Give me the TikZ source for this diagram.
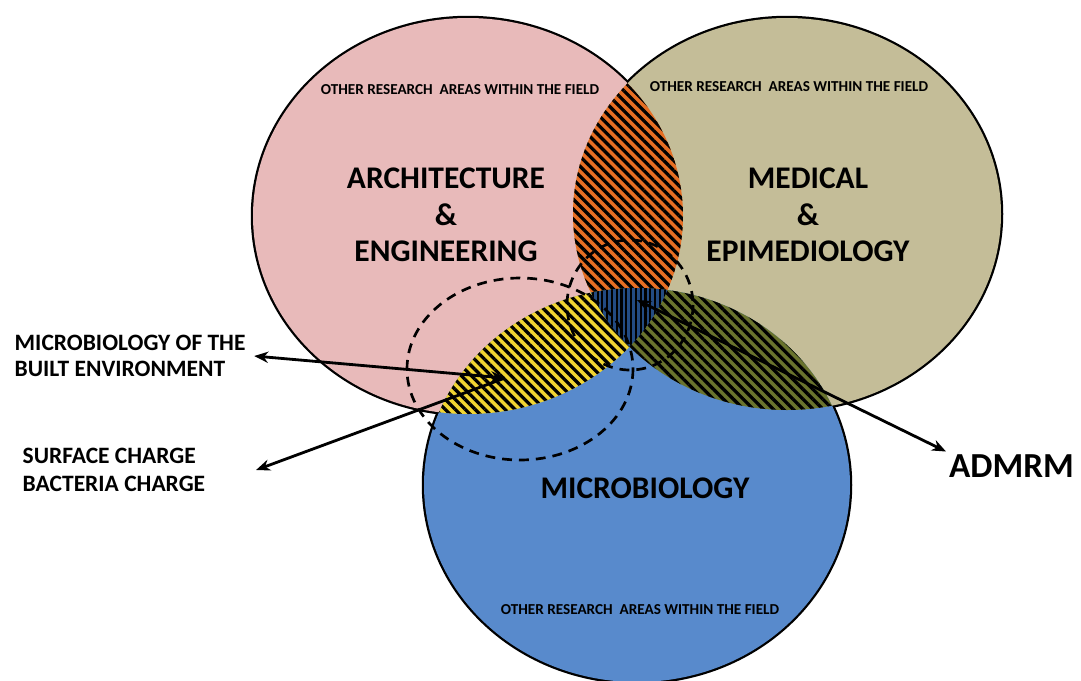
\documentclass[tikz,border=0pt]{standalone}
\usepackage{fontspec}
\setmainfont{Carlito}
\usetikzlibrary{patterns.meta,arrows.meta}

\definecolor{archpink}{RGB}{232,186,186}
\definecolor{medtan}{RGB}{196,189,152}
\definecolor{microblue}{RGB}{88,138,204}
\definecolor{lensorange}{RGB}{230,110,35}
\definecolor{lensyellow}{RGB}{240,212,50}
\definecolor{lensolive}{RGB}{105,115,45}
\definecolor{coreblue}{RGB}{35,75,130}

\tikzset{
  rim/.style={draw=black, line width=3.2pt},
  hatch/.style={pattern={Lines[angle=-45,distance=5pt,line width=2.3pt]}, pattern color=black},
  vhatch/.style={pattern={Lines[angle=90,distance=3.4pt,line width=1.5pt]}, pattern color=black},
  title/.style={font=\bfseries\fontsize{22.4}{26}\selectfont, align=center},
  other/.style={font=\bfseries\fontsize{10.8}{12}\selectfont},
  callout/.style={font=\bfseries\fontsize{16.7}{18.5}\selectfont, align=left, anchor=west, inner sep=6pt},
  ring/.style={line width=1.9pt, dash pattern=on 7pt off 5pt},
  pointer/.style={line width=2pt},
  >={Stealth[length=10pt,width=8pt]}
}

\begin{document}
\begin{tikzpicture}[x=0.025cm,y=-0.025cm]
\useasboundingbox (0,0) rectangle (1081,680);
\fill[white] (0,0) rectangle (1081,680);

\coordinate (arch) at (468,216);
\coordinate (med) at (787,214);
\coordinate (micro) at (637,485);

% rims first, the fills on top leave only the outer edge
\draw[rim] (arch) ellipse [x radius=215, y radius=198];
\draw[rim] (med) ellipse [x radius=214, y radius=196];
\draw[rim] (micro) ellipse [x radius=213, y radius=197];
\fill[archpink] (arch) ellipse [x radius=215, y radius=198];
\fill[medtan] (med) ellipse [x radius=214, y radius=196];
\fill[microblue] (micro) ellipse [x radius=213, y radius=197];

% pairwise overlaps
\begin{scope}
  \clip (arch) ellipse [x radius=215, y radius=198];
  \fill[lensorange] (med) ellipse [x radius=214, y radius=196];
  \fill[hatch] (med) ellipse [x radius=214, y radius=196];
  \fill[lensyellow] (micro) ellipse [x radius=213, y radius=197];
  \fill[hatch] (micro) ellipse [x radius=213, y radius=197];
\end{scope}
\begin{scope}
  \clip (med) ellipse [x radius=214, y radius=196];
  \fill[lensolive] (micro) ellipse [x radius=213, y radius=197];
  \fill[hatch] (micro) ellipse [x radius=213, y radius=197];
\end{scope}

% all three
\begin{scope}
  \clip (arch) ellipse [x radius=215, y radius=198];
  \clip (med) ellipse [x radius=214, y radius=196];
  \fill[coreblue] (micro) ellipse [x radius=213, y radius=197];
  \fill[vhatch] (micro) ellipse [x radius=213, y radius=197];
\end{scope}

% dashed rings
\draw[ring] (520,369) ellipse [x radius=113, y radius=91];
\draw[ring] (630,305) ellipse [x radius=63, y radius=65];

% field names
\node[other] (archother) at (460,90) {OTHER RESEARCH\ \ AREAS WITHIN THE FIELD};
\node[other] (medother) at (789,87) {OTHER RESEARCH\ \ AREAS WITHIN THE FIELD};
\node[other] (microother) at (640,610) {OTHER RESEARCH\ \ AREAS WITHIN THE FIELD};
\node[title] (archtitle) at (446,215) {ARCHITECTURE\\\&\\ENGINEERING};
\node[title] (medtitle) at (808,215) {MEDICAL\\\&\\EPIMEDIOLOGY};
\node[title] (microtitle) at (645,488) {MICROBIOLOGY};

% callouts
\node[callout] (builtlbl) at (6,356) {MICROBIOLOGY OF THE\\BUILT ENVIRONMENT};
\node[callout, font=\bfseries\fontsize{16.7}{19.5}\selectfont] (chargelbl) at (14,470) {SURFACE CHARGE\\BACTERIA CHARGE};
\node[callout, inner sep=2pt, font=\bfseries\fontsize{25}{28}\selectfont] (admrmlbl) at (946,466) {ADMRM};

\coordinate (yellowpt) at (505,378);
\coordinate (corept) at (637,300);
\draw[pointer,<->] (yellowpt) -- (builtlbl.east);
\draw[pointer,->] (yellowpt) -- ([xshift=30]chargelbl.east);
\draw[pointer,<->] (corept) -- (admrmlbl.north west);
\end{tikzpicture}
\end{document}
